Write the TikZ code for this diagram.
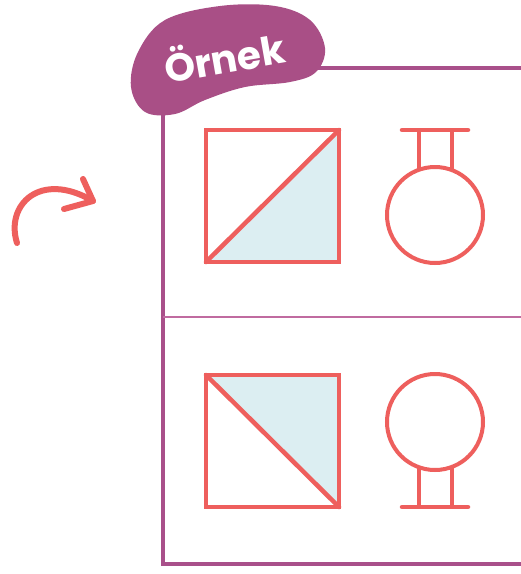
\documentclass[tikz,border=0pt]{standalone}
\usepackage{fontspec}
\newfontfamily\badgefont{Poppins}
\begin{document}
\begin{tikzpicture}[x=1pt,y=-1pt,
  redline/.style={draw=redc,line width=4.5pt},
  frameline/.style={draw=framec,line width=4.5pt},
  thinline/.style={draw=midc,line width=2pt},
  fillc/.style={fill=bluec},
  arrowline/.style={draw=redc,line width=6pt,line cap=round,line join=round}]
\definecolor{redc}{HTML}{EE5F5D}
\definecolor{framec}{HTML}{A9508A}
\definecolor{midc}{HTML}{C06BA0}
\definecolor{bluec}{HTML}{DCEEF2}
\definecolor{badgec}{HTML}{A94F86}
\useasboundingbox[fill=white] (0,0) rectangle (521,574);
% frame
\coordinate (ftl) at (163,110);
\coordinate (fbl) at (163,564);
\coordinate (fbr) at (523,564);
\coordinate (ftr) at (523,68);
\coordinate (ftm) at (300,68);
\coordinate (ml) at (163,317);
\coordinate (mr) at (523,317);
\draw[frameline] (ftl) -- (fbl) -- (fbr);
\draw[frameline] (ftm) -- (ftr);
\draw[thinline] (ml) -- (mr);
% badge
\fill[badgec] plot[smooth cycle,tension=0.6] coordinates {(131,87) (138,52) (165,20) (220,6) (275,6) (310,20) (325,48) (316,72) (290,82) (245,87) (205,100) (175,114) (145,112)};
\node[text=white,rotate=10,font=\badgefont\bfseries\fontsize{39}{39}\selectfont] (badge) at (224,56) {Örnek};
% top row
\coordinate (s1a) at (206,130); \coordinate (s1b) at (339,130);
\coordinate (s1c) at (339,262); \coordinate (s1d) at (206,262);
\fill[fillc] (s1b) -- (s1c) -- (s1d) -- cycle;
\draw[redline] (s1a) rectangle (s1c);
\draw[redline,line cap=round] (s1d) -- (s1b);
\node[circle,draw=redc,line width=4pt,minimum size=96pt,inner sep=0pt] (c1) at (435,215) {};
\coordinate (b1l) at (402,130); \coordinate (b1r) at (468,130);
\draw[redline,line cap=round] (b1l) -- (b1r);
\draw[redline] (419,130) -- (419,171);
\draw[redline] (452,130) -- (452,171);
% bottom row
\coordinate (s2a) at (206,375); \coordinate (s2b) at (339,375);
\coordinate (s2c) at (339,507); \coordinate (s2d) at (206,507);
\fill[fillc] (s2a) -- (s2b) -- (s2c) -- cycle;
\draw[redline] (s2a) rectangle (s2c);
\draw[redline,line cap=round] (s2a) -- (s2c);
\node[circle,draw=redc,line width=4pt,minimum size=96pt,inner sep=0pt] (c2) at (435,422) {};
\coordinate (b2l) at (402,507); \coordinate (b2r) at (468,507);
\draw[redline,line cap=round] (b2l) -- (b2r);
\draw[redline] (419,466) -- (419,507);
\draw[redline] (452,466) -- (452,507);
% arrow
\coordinate (as) at (17,243);
\coordinate (at) at (93,201);
\coordinate (ah1) at (83,179);
\coordinate (ah2) at (64,209);
\draw[arrowline] (as) .. controls (5,205) and (40,170) .. (at);
\draw[arrowline] (ah1) -- (at) -- (ah2);
\end{tikzpicture}
\end{document}
